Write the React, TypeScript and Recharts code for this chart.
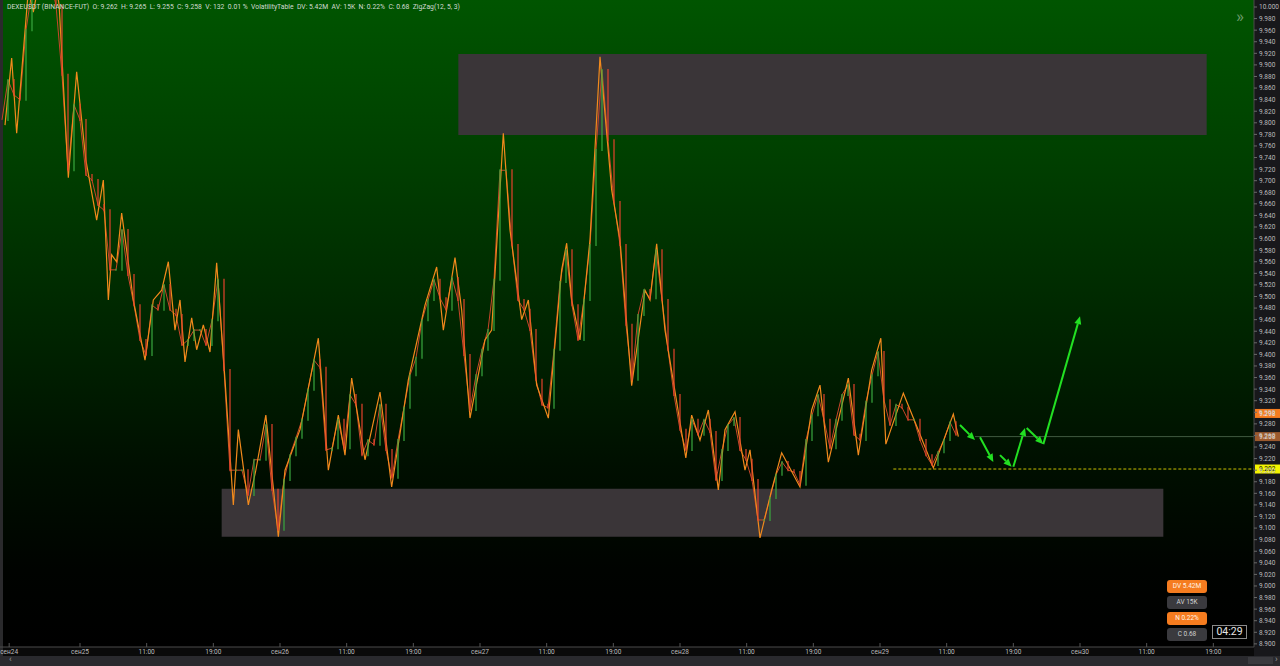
import React from "react";
import { LineChart, Line, XAxis, YAxis, ReferenceArea, ReferenceLine } from "recharts";

const PLOT_W = 1254;
const PLOT_H = 647;

// zigzag pivots: hours from сен24 00:00 (local session start) and price
const zzHours = [
  15.0, 15.8, 16.4, 17.8, 18.4, 19.0, 21.1, 21.5, 22.6, 23.6, 24.7, 26.0, 26.8, 27.4, 27.8, 28.4, 29.0, 30.4,
  31.8, 32.8, 33.8, 34.6, 35.4, 36.0, 36.6, 37.4, 38.0, 38.8, 39.6, 40.4, 41.4, 42.4, 43.0, 44.2, 45.1, 46.3,
  47.8, 48.6, 50.4, 52.6, 53.8, 55.0, 55.8, 56.6, 58.2, 60.0, 61.4, 63.4, 65.4, 66.8, 67.6, 69.0, 69.8, 70.8,
  72.6, 73.4, 74.8, 75.6, 77.0, 77.8, 78.8, 80.2, 81.8, 82.4, 83.0, 84.0, 85.2, 86.4, 87.8, 88.8, 90.2, 91.8,
  92.4, 93.2, 94.2, 96.7, 97.4, 98.4, 99.4, 100.6, 101.4, 102.6, 103.8, 104.4, 105.6, 107.0, 108.2, 110.4,
  111.8, 112.8, 113.8, 116.2, 117.4, 119.0, 120.1, 120.7, 122.8, 124.6, 126.4, 128.8, 129.4,
];
const zzPrices = [
  9.796, 9.912, 9.782, 10.029, 9.991, 10.038, 10.038, 10.003, 9.705, 9.888, 9.736, 9.632, 9.701, 9.494, 9.572,
  9.56, 9.644, 9.494, 9.39, 9.494, 9.511, 9.56, 9.442, 9.494, 9.387, 9.463, 9.408, 9.451, 9.404, 9.558, 9.356,
  9.14, 9.27, 9.14, 9.2, 9.295, 9.085, 9.2, 9.27, 9.428, 9.2, 9.295, 9.226, 9.359, 9.218, 9.335, 9.171, 9.356,
  9.485, 9.551, 9.442, 9.567, 9.477, 9.29, 9.425, 9.442, 9.782, 9.615, 9.46, 9.494, 9.347, 9.29, 9.546, 9.592,
  9.494, 9.425, 9.598, 9.914, 9.684, 9.598, 9.346, 9.511, 9.494, 9.591, 9.442, 9.221, 9.295, 9.252, 9.304,
  9.166, 9.27, 9.301, 9.2, 9.235, 9.083, 9.166, 9.23, 9.171, 9.304, 9.347, 9.214, 9.359, 9.226, 9.373, 9.428,
  9.245, 9.333, 9.269, 9.204, 9.297, 9.258,
];

// candle closes, one every 0.72 h starting at 14.64 h
const candleStart = 14.64;
const candleStep = 0.72;
const candleCloses = [
  9.805, 9.874, 9.848, 9.84, 9.96, 10.029, 10.047, 10.047, 10.047, 10.003,
  9.883, 9.718, 9.831, 9.805, 9.71, 9.701, 9.658, 9.649, 9.546, 9.546,
  9.615, 9.537, 9.485, 9.425, 9.399, 9.485, 9.477, 9.52, 9.477, 9.468,
  9.416, 9.425, 9.442, 9.442, 9.416, 9.459, 9.529, 9.373, 9.2, 9.2,
  9.2, 9.157, 9.218, 9.218, 9.278, 9.166, 9.097, 9.183, 9.226, 9.256,
  9.287, 9.339, 9.39, 9.377, 9.235, 9.238, 9.287, 9.238, 9.33, 9.313,
  9.226, 9.252, 9.244, 9.313, 9.235, 9.187, 9.252, 9.308, 9.364, 9.394,
  9.459, 9.494, 9.529, 9.497, 9.477, 9.532, 9.494, 9.399, 9.304, 9.364,
  9.408, 9.442, 9.529, 9.718, 9.718, 9.589, 9.494, 9.477, 9.442, 9.356,
  9.313, 9.308, 9.408, 9.525, 9.58, 9.485, 9.425, 9.494, 9.589, 9.753,
  9.891, 9.77, 9.663, 9.589, 9.451, 9.356, 9.468, 9.511, 9.497, 9.58,
  9.494, 9.408, 9.33, 9.27, 9.235, 9.287, 9.261, 9.287, 9.266, 9.183,
  9.235, 9.278, 9.29, 9.235, 9.218, 9.183, 9.114, 9.114, 9.152, 9.192,
  9.214, 9.2, 9.197, 9.175, 9.252, 9.295, 9.33, 9.287, 9.238, 9.287,
  9.33, 9.347, 9.261, 9.252, 9.318, 9.364, 9.404, 9.321, 9.278, 9.313,
  9.308, 9.287, 9.287, 9.252, 9.226, 9.209, 9.231, 9.252, 9.283, 9.261,
];

const timeTicks = [15.5, 24, 32, 40, 48, 56, 64, 72, 80, 88, 96, 104, 112, 120, 128, 136, 144, 152, 160];
const timeLabels = [
  "сен24", "сен25", "11:00", "19:00", "сен26", "11:00", "19:00", "сен27", "11:00", "19:00",
  "сен28", "11:00", "19:00", "сен29", "11:00", "19:00", "сен30", "11:00", "19:00",
];
const priceTicks = Array.from({ length: 56 }, (_, i) => Number((8.9 + i * 0.02).toFixed(3)));

// supply / demand zones
const zoneFromH = [69.4, 41.0];
const zoneToH = [159.2, 154.0];
const zoneLowP = [9.779, 9.085];
const zoneHighP = [9.919, 9.168];

// hand drawn forecast arrows
const arrowFromH = [129.6, 132.0, 134.4, 136.0, 137.6, 139.6];
const arrowFromP = [9.278, 9.257, 9.226, 9.206, 9.273, 9.245];
const arrowToH = [131.4, 133.6, 135.8, 137.4, 139.6, 144.0];
const arrowToP = [9.252, 9.214, 9.206, 9.273, 9.245, 9.466];

const lastPrice = 9.258;
const lastPriceFrom = 131.4;
const levelPrice = 9.202;
const levelFrom = 121.6;
const highMark = 9.298;

const badges = [
  { text: "DV 5.42M", bg: "#f57c1f", color: "#fff3e6" },
  { text: "AV 15K", bg: "#3a3a3e", color: "#d0d0d0" },
  { text: "N 0.22%", bg: "#f57c1f", color: "#fff3e6" },
  { text: "C 0.68", bg: "#3a3a3e", color: "#d0d0d0" },
];

const X_DOMAIN = [14.4, 164.88];
const Y_DOMAIN = [8.8946, 10.0121];

const UP = "#3aa83f";
const DOWN = "#e4432c";

function TimeTick(props: any) {
  const { x, payload } = props;
  const i = timeTicks.indexOf(payload.value);
  return (
    <g>
      <line x1={x} x2={x} y1={PLOT_H - 4} y2={PLOT_H} stroke="#555" />
      <text x={x} y={PLOT_H + 7} textAnchor="middle" fontSize={6.5} fill="#bdbdbd" fontFamily="Roboto, sans-serif">
        {timeLabels[i]}
      </text>
    </g>
  );
}

function PriceTick(props: any) {
  const { y, payload } = props;
  return (
    <g>
      <line x1={PLOT_W} x2={PLOT_W + 3} y1={y} y2={y} stroke="#6a6a6a" />
      <text x={PLOT_W + 5} y={y + 2.4} fontSize={6.5} fill="#bcbcbc" fontFamily="Roboto, sans-serif">
        {payload.value.toFixed(3)}
      </text>
    </g>
  );
}

function priceBadge(value: number, bg: string, fg: string) {
  return (props: any) => {
    const { viewBox } = props;
    const right = viewBox.x + viewBox.width;
    return (
      <g>
        <rect x={right + 1} y={viewBox.y - 4.5} width={26} height={9} fill={bg} />
        <text x={right + 5} y={viewBox.y + 2.4} fontSize={6.5} fill={fg} fontFamily="Roboto, sans-serif">
          {value.toFixed(3)}
        </text>
      </g>
    );
  };
}

// candle body: from the previous close (open) to this close, in the series' own pixel space
function CandleBody(props: any) {
  const { cx, cy, index, points } = props;
  if (cx == null || cy == null || !points || index === 0) return <g key={`cb-${index}`} />;
  const prev = points[index - 1];
  if (!prev || prev.y == null) return <g key={`cb-${index}`} />;
  const up = cy <= prev.y;
  const top = Math.min(cy, prev.y);
  const bottom = Math.max(cy, prev.y);
  return (
    <line
      key={`cb-${index}`}
      x1={cx}
      x2={cx}
      y1={top - 1}
      y2={bottom + 1}
      stroke={up ? UP : DOWN}
      strokeWidth={1.2}
    />
  );
}

function Arrow(props: any) {
  const { x1, y1, x2, y2 } = props;
  const dx = x2 - x1;
  const dy = y2 - y1;
  const len = Math.sqrt(dx * dx + dy * dy) || 1;
  const ux = dx / len;
  const uy = dy / len;
  const hl = 8;
  const hw = 3.5;
  const bx = x2 - ux * hl;
  const by = y2 - uy * hl;
  const pts = `${x2},${y2} ${bx - uy * hw},${by + ux * hw} ${bx + uy * hw},${by - ux * hw}`;
  return (
    <g>
      <line x1={x1} y1={y1} x2={bx} y2={by} stroke="#22e022" strokeWidth={2} />
      <polygon points={pts} fill="#22e022" />
    </g>
  );
}

export default function App() {
  const zzData = zzHours.map((h, i) => ({ h, zz: zzPrices[i] }));
  const candles = candleCloses.map((c, i) => ({ h: candleStart + i * candleStep, close: c }));

  return (
    <div
      style={{
        position: "fixed",
        left: 0,
        top: 0,
        width: 1280,
        height: 666,
        background: "#0a0a0a",
        overflow: "hidden",
        fontFamily: "Roboto, sans-serif",
      }}
    >
      <div
        style={{
          position: "absolute",
          left: 0,
          top: 0,
          width: PLOT_W,
          height: PLOT_H,
          background:
            "linear-gradient(to bottom, #005500 0%, #003f00 25%, #002600 50%, #000f00 72%, #000300 88%, #000000 100%)",
        }}
      />
      <div style={{ position: "absolute", left: 0, top: 0, width: 3, height: 656, background: "#2a2a2c" }} />
      <div style={{ position: "absolute", left: PLOT_W, top: 0, width: 26, height: 656, background: "#18181b" }} />
      <div style={{ position: "absolute", left: 0, top: 656, width: 1280, height: 10, background: "#2a2a2e" }}>
        <span style={{ position: "absolute", left: 9, top: -2, fontSize: 9, color: "#9a9a9a" }}>‹</span>
        <div style={{ position: "absolute", left: 1248, top: 1, width: 25, height: 7, background: "#3a3a3e" }} />
        <span style={{ position: "absolute", left: 1275, top: -2, fontSize: 9, color: "#9a9a9a" }}>›</span>
      </div>

      <div style={{ position: "absolute", left: 0, top: 0 }}>
        <LineChart width={1280} height={656} data={candles} margin={{ top: 0, right: 0, bottom: 0, left: 0 }}>
          <XAxis
            dataKey="h"
            type="number"
            domain={X_DOMAIN}
            ticks={timeTicks}
            interval={0}
            allowDataOverflow
            height={9}
            tick={<TimeTick />}
            tickLine={false}
            axisLine={{ stroke: "#4a4a4a" }}
          />
          <YAxis
            orientation="right"
            type="number"
            domain={Y_DOMAIN}
            ticks={priceTicks}
            interval={0}
            allowDataOverflow
            width={26}
            tick={<PriceTick />}
            tickLine={false}
            axisLine={{ stroke: "#4a4a4a" }}
          />
          {zoneFromH.map((h, i) => (
            <ReferenceArea
              key={`zone-${i}`}
              x1={h}
              x2={zoneToH[i]}
              y1={zoneLowP[i]}
              y2={zoneHighP[i]}
              fill="#3a3538"
              fillOpacity={1}
              stroke="none"
            />
          ))}
          <ReferenceLine
            segment={[
              { x: lastPriceFrom, y: lastPrice },
              { x: X_DOMAIN[1], y: lastPrice },
            ]}
            stroke="#3f5a3f"
            strokeWidth={1}
            label={priceBadge(lastPrice, "#9c5a2e", "#f3e0d0")}
          />
          <ReferenceLine
            segment={[
              { x: levelFrom, y: levelPrice },
              { x: X_DOMAIN[1], y: levelPrice },
            ]}
            stroke="#c8c000"
            strokeDasharray="3 2"
            strokeWidth={1}
            label={priceBadge(levelPrice, "#f4f400", "#111")}
          />
          <ReferenceLine y={highMark} stroke="none" label={priceBadge(highMark, "#f57c1f", "#fff0e0")} />
          <Line
            dataKey="close"
            stroke="#c8462a"
            strokeWidth={1}
            dot={CandleBody}
            activeDot={false}
            isAnimationActive={false}
          />
          <Line
            data={zzData}
            dataKey="zz"
            stroke="#f28a1c"
            strokeWidth={1.2}
            dot={false}
            activeDot={false}
            isAnimationActive={false}
          />
          {arrowFromH.map((h, i) => (
            <ReferenceLine
              key={`arrow-${i}`}
              segment={[
                { x: h, y: arrowFromP[i] },
                { x: arrowToH[i], y: arrowToP[i] },
              ]}
              shape={<Arrow />}
            />
          ))}
        </LineChart>
      </div>

      <div
        style={{
          position: "absolute",
          left: 7,
          top: 3,
          fontSize: 6.8,
          color: "#d2dad2",
          whiteSpace: "pre",
        }}
      >
        {"DEXEUSDT (BINANCE-FUT)  O: 9.262  H: 9.265  L: 9.255  C: 9.258  V: 132  0.01 %  VolatilityTable  DV: 5.42M  AV: 15K  N: 0.22%  C: 0.68  ZigZag(12, 5, 3)"}
      </div>
      <div style={{ position: "absolute", left: 1236, top: 6, fontSize: 17, color: "#6a9a6a" }}>»</div>

      {badges.map((b, i) => (
        <div
          key={b.text}
          style={{
            position: "absolute",
            left: 1167,
            top: 580 + i * 16,
            width: 40,
            height: 13,
            borderRadius: 3,
            background: b.bg,
            color: b.color,
            fontSize: 6.5,
            lineHeight: "13px",
            textAlign: "center",
          }}
        >
          {b.text}
        </div>
      ))}
      <div
        style={{
          position: "absolute",
          left: 1212,
          top: 625,
          width: 33,
          height: 12,
          border: "1px solid #8a8a8a",
          color: "#e6e6e6",
          fontSize: 10.5,
          lineHeight: "12px",
          textAlign: "center",
          background: "#000",
        }}
      >
        04:29
      </div>
    </div>
  );
}
